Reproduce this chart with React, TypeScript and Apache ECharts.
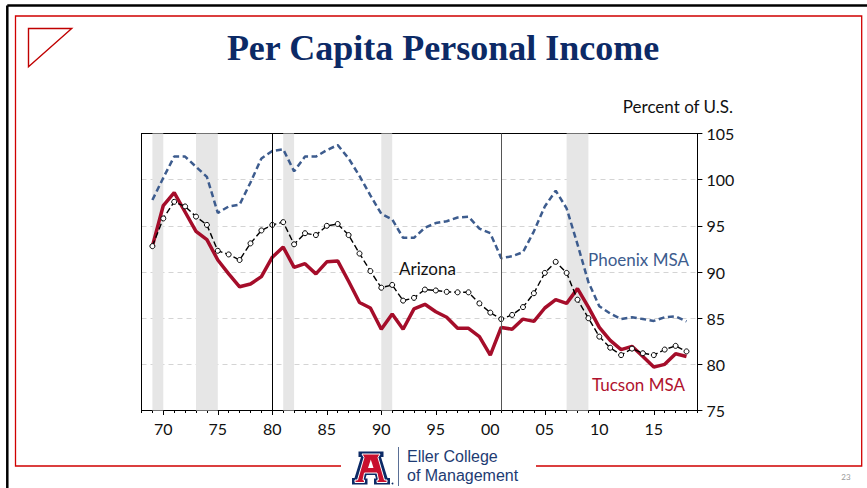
import React, { useEffect, useRef } from "react";
import * as echarts from "echarts";

const years = [
  1969, 1970, 1971, 1972, 1973, 1974, 1975, 1976, 1977, 1978,
  1979, 1980, 1981, 1982, 1983, 1984, 1985, 1986, 1987, 1988,
  1989, 1990, 1991, 1992, 1993, 1994, 1995, 1996, 1997, 1998,
  1999, 2000, 2001, 2002, 2003, 2004, 2005, 2006, 2007, 2008,
  2009, 2010, 2011, 2012, 2013, 2014, 2015, 2016, 2017, 2018,
];

const arizona = [
  92.8, 95.8, 97.6, 97.1, 96.0, 95.1, 92.3, 91.9, 91.3, 93.1,
  94.5, 95.1, 95.4, 93.0, 94.2, 94.0, 95.0, 95.2, 94.0, 92.0,
  90.1, 88.3, 88.6, 86.9, 87.2, 88.1, 88.0, 87.85, 87.8, 87.8,
  86.6, 85.6, 84.9, 85.35, 86.2, 87.7, 89.9, 91.1, 89.9, 87.0,
  85.0, 83.0, 81.8, 81.0, 81.7, 81.2, 81.0, 81.6, 82.0, 81.4,
];

const phoenix = [
  97.8, 100.2, 102.5, 102.5, 101.4, 100.3, 96.4, 97.1, 97.3, 99.7,
  102.3, 103.1, 103.3, 100.9, 102.5, 102.5, 103.2, 103.75, 102.3, 100.4,
  98.3, 96.3, 95.7, 93.7, 93.7, 94.8, 95.3, 95.5, 95.9, 96.0,
  94.7, 94.2, 91.5, 91.7, 92.15, 94.4, 97.1, 98.8, 96.9, 93.0,
  88.9, 86.3, 85.5, 84.9, 85.1, 84.9, 84.7, 85.1, 85.2, 84.65,
];

const tucson = [
  92.8, 97.2, 98.6, 96.5, 94.4, 93.5, 91.3, 89.8, 88.4, 88.7,
  89.5, 91.6, 92.7, 90.5, 90.9, 89.8, 91.1, 91.2, 89.0, 86.7,
  86.1, 83.8, 85.45, 83.8, 86.0, 86.5, 85.7, 85.1, 83.9, 83.9,
  83.0, 81.0, 84.0, 83.8, 84.9, 84.65, 86.1, 87.0, 86.6, 88.2,
  86.2, 84.0, 82.6, 81.6, 81.95, 80.85, 79.7, 80.0, 81.15, 80.85,
];

const recessionBands = [
  [1969, 1970],
  [1973, 1975],
  [1981, 1982],
  [1990, 1991],
  [2007, 2009],
];
const recessionLines = [1980, 2001];
const majorYears = [1970, 1975, 1980, 1985, 1990, 1995, 2000, 2005, 2010, 2015];

const title = "Per Capita Personal Income";
const unitLabel = "Percent of U.S.";
const seriesNames = { arizona: "Arizona", phoenix: "Phoenix MSA", tucson: "Tucson MSA" };
const logoLines = ["Eller College", "of Management"];

const SANS = "Lato, 'Open Sans', sans-serif";
const NAVY = "#0c2a66";

const pairs = (vals: number[]) => years.map((y, i) => [y, vals[i]]);

export default function App() {
  const ref = useRef<HTMLDivElement>(null);
  useEffect(() => {
    const chart = echarts.init(ref.current!, null, { renderer: "svg" });
    const option: any = {
      animation: false,
      backgroundColor: "#fff",
      grid: {
        left: 141.5,
        right: 169.6,
        top: 133.5,
        bottom: 77.5,
        show: false,
      },
      xAxis: [
        {
          type: "value",
          min: 1968,
          max: 2019,
          position: "bottom",
          axisLine: { show: true, lineStyle: { color: "#000", width: 1 } },
          axisTick: { show: true, length: 4.5, lineStyle: { color: "#000" }, customValues: majorYears },
          axisLabel: {
            show: true,
            customValues: majorYears,
            margin: 10,
            color: "#111",
            fontSize: 16,
            fontFamily: SANS,
            formatter: (v: number) => String(v % 100).padStart(2, "0"),
          },
          splitLine: { show: false },
        },
        {
          type: "value",
          min: 1968,
          max: 2019,
          interval: 1,
          position: "bottom",
          axisLine: { show: false },
          axisTick: { show: true, length: 2.5, lineStyle: { color: "#000" } },
          axisLabel: { show: false },
          splitLine: { show: false },
        },
        {
          type: "value",
          min: 1968,
          max: 2019,
          position: "top",
          axisLine: { show: true, lineStyle: { color: "#000", width: 1 } },
          axisTick: { show: false },
          axisLabel: { show: false },
          splitLine: { show: false },
        },
      ],
      yAxis: [
        {
          type: "value",
          position: "right",
          min: 75,
          max: 105,
          interval: 5,
          axisLine: { show: true, lineStyle: { color: "#000", width: 1 } },
          axisTick: { show: true, inside: false, length: 5, lineStyle: { color: "#000" } },
          axisLabel: { margin: 9, color: "#111", fontSize: 16, fontFamily: SANS },
          splitLine: {
            show: true,
            showMinLine: false,
            showMaxLine: false,
            lineStyle: { color: "#d4d4d4", type: [5, 4], width: 1 },
          },
        },
        {
          type: "value",
          position: "left",
          min: 75,
          max: 105,
          interval: 5,
          axisLine: { show: true, lineStyle: { color: "#000", width: 1 } },
          axisTick: { show: false },
          axisLabel: { show: false },
          splitLine: { show: false },
        },
      ],
      series: [
        {
          name: seriesNames.phoenix,
          type: "line",
          data: pairs(phoenix),
          showSymbol: false,
          symbol: "none",
          z: 2,
          lineStyle: { color: "#3d5c8e", width: 2.5, type: [6, 3.5] },
          markArea: {
            silent: true,
            itemStyle: { color: "#e6e6e6" },
            data: recessionBands.map(([a, b]) => [{ xAxis: a }, { xAxis: b }]),
          },
          markLine: {
            silent: true,
            symbol: "none",
            label: { show: false },
            data: recessionLines.map((yr, i) => ({
              xAxis: yr,
              lineStyle: { color: i === 0 ? "#000" : "#555", width: 1, type: "solid" },
            })),
          },
        },
        {
          name: seriesNames.tucson,
          type: "line",
          data: pairs(tucson),
          showSymbol: false,
          symbol: "none",
          z: 3,
          lineStyle: { color: "#a50d2a", width: 3.5 },
        },
        {
          name: seriesNames.arizona,
          type: "line",
          data: pairs(arizona),
          symbol: "circle",
          symbolSize: 5,
          showSymbol: true,
          z: 4,
          itemStyle: { color: "#fff", borderColor: "#000", borderWidth: 1 },
          lineStyle: { color: "#000", width: 1.4, type: [6, 3] },
        },
      ],
      graphic: [
        // outer black frame
        { type: "line", shape: { x1: 7.3, y1: 5.5, x2: 867, y2: 5.5 }, style: { stroke: "#000", lineWidth: 2.5 } },
        { type: "line", shape: { x1: 7.3, y1: 5.5, x2: 7.3, y2: 488 }, style: { stroke: "#000", lineWidth: 2.5 } },
        // red frame
        { type: "polyline", shape: { points: [[341, 466], [15.5, 466], [15.5, 16], [861.7, 16], [861.7, 466], [536, 466]] }, style: { stroke: "#d00000", lineWidth: 1.3, fill: "none" } },
        // red triangle
        { type: "polygon", shape: { points: [[28.5, 28.5], [71.7, 28.5], [28.5, 66.7]] }, style: { stroke: "#c00000", lineWidth: 1.4, fill: "none" } },
        // title
        {
          type: "text",
          x: 443,
          y: 48,
          style: {
            text: title,
            font: "bold 36px 'Liberation Serif', 'Times New Roman', serif",
            fill: NAVY,
            textAlign: "center",
            textVerticalAlign: "middle",
            align: "center",
            verticalAlign: "middle",
          },
        },
        {
          type: "text",
          x: 733,
          y: 106,
          style: { text: unitLabel, font: `17px ${SANS}`, fill: "#111", textAlign: "right", textVerticalAlign: "middle", align: "right", verticalAlign: "middle" },
        },
        {
          type: "text",
          x: 399,
          y: 268,
          z: 10,
          style: { text: seriesNames.arizona, font: `17px ${SANS}`, fill: "#111", textVerticalAlign: "middle", verticalAlign: "middle" },
        },
        {
          type: "text",
          x: 588,
          y: 259,
          z: 10,
          style: { text: seriesNames.phoenix, font: `17px ${SANS}`, fill: "#3d5c8e", textVerticalAlign: "middle", verticalAlign: "middle" },
        },
        {
          type: "text",
          x: 592,
          y: 384,
          z: 10,
          style: { text: seriesNames.tucson, font: `17px ${SANS}`, fill: "#b0122e", textVerticalAlign: "middle", verticalAlign: "middle" },
        },
        // logo block A
        {
          type: "polygon",
          shape: {
            points: [
              [358.5, 451.5], [383.5, 451.5], [383.5, 457], [381, 457], [387.5, 478], [390, 478], [390, 484.5],
              [374, 484.5], [374, 478.5], [376, 478.5], [375, 475], [366.5, 475], [365.5, 478.5], [367.5, 478.5],
              [367.5, 484.5], [352, 484.5], [352, 478], [354.5, 478], [361, 457], [358.5, 457],
            ],
          },
          style: { fill: "#0c2a66" },
        },
        {
          type: "polygon",
          shape: {
            points: [
              [362, 454], [380, 454], [378, 457.5], [384.5, 480], [387, 480], [387, 482.5],
              [377, 482.5], [377, 480], [378.5, 480], [377, 473], [364.5, 473], [363, 480], [364.5, 480],
              [364.5, 482.5], [355, 482.5], [355, 480], [357.5, 480], [364, 457.5],
            ],
          },
          style: { fill: "#c8102e", stroke: "#fff", lineWidth: 1 },
        },
        { type: "polygon", shape: { points: [[368, 468], [373.5, 468], [370.8, 459.5]] }, style: { fill: "#fff" } },
        { type: "circle", shape: { cx: 392.5, cy: 483.5, r: 0.9 }, style: { fill: "#0c2a66" } },
        { type: "line", shape: { x1: 398.5, y1: 447, x2: 398.5, y2: 486 }, style: { stroke: "#5a6f96", lineWidth: 1 } },
        {
          type: "text",
          x: 407,
          y: 456.5,
          style: {
            text: logoLines[0],
            font: `16px 'Liberation Sans', Arial, sans-serif`,
            fill: "#1d3b73",
            textVerticalAlign: "middle",
            verticalAlign: "middle",
          },
        },
        {
          type: "text",
          x: 407,
          y: 475.5,
          style: {
            text: logoLines[1],
            font: `16px 'Liberation Sans', Arial, sans-serif`,
            fill: "#1d3b73",
            textVerticalAlign: "middle",
            verticalAlign: "middle",
          },
        },
        {
          type: "text",
          x: 846,
          y: 477,
          style: { text: "23", font: `8px ${SANS}`, fill: "#999", textAlign: "center", textVerticalAlign: "middle", align: "center", verticalAlign: "middle" },
        },
      ],
    };
    chart.setOption(option);
    return () => chart.dispose();
  }, []);
  return (
    <div
      ref={ref}
      style={{ position: "fixed", left: 0, top: 0, width: 867, height: 488, background: "#fff" }}
    />
  );
}
